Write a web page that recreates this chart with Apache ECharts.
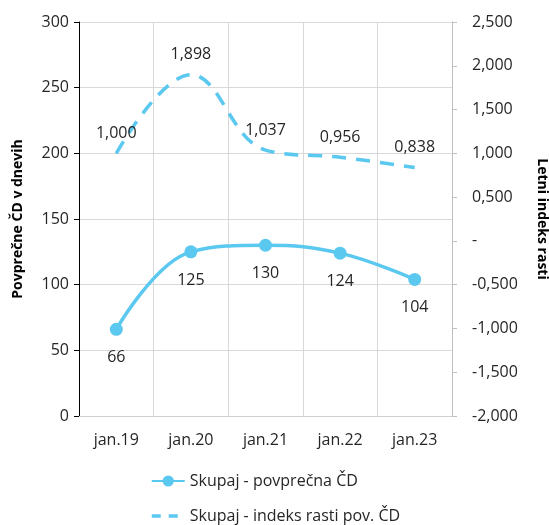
<html>
<head>
    <script src="https://cdn.jsdelivr.net/npm/echarts@6/dist/echarts.min.js"></script>
    <style>
        body { margin: 0 }
        #chart { width: 549px; height: 525px; }
    </style>
</head>
<body>
    <div id="chart"></div>
    <script>
        const categories = ['jan.19', 'jan.20', 'jan.21', 'jan.22', 'jan.23'];
        const avgDays = [66, 125, 130, 124, 104];
        const growthIndex = [1.000, 1.898, 1.037, 0.956, 0.838];

        const blue = '#5BC8F0';
        const font = '"Open Sans", sans-serif';
        const txt = '#262626';
        const fmt = (v) => v === 0 ? '-' : v.toFixed(3).replace('.', ',');

        const myChart = echarts.init(document.getElementById('chart'));

        const option = {
            textStyle: { fontFamily: font },
            grid: { left: 79, right: 97, top: 22, bottom: 109, outerBoundsMode: 'none', containLabel: false },
            legend: {
                orient: 'vertical',
                left: 150,
                bottom: 1,
                padding: 0,
                itemGap: 19,
                itemWidth: 33,
                itemHeight: 14,
                textStyle: { fontSize: 16, color: txt, fontFamily: font },
                data: [
                    { name: 'Skupaj - povprečna ČD' },
                    {
                        name: 'Skupaj - indeks rasti pov. ČD',
                        itemStyle: { opacity: 0 },
                        lineStyle: { type: [9, 8], width: 3.5, color: blue }
                    }
                ]
            },
            xAxis: {
                type: 'category',
                data: categories,
                axisLine: { lineStyle: { color: '#d0d0d0' } },
                axisTick: { show: false },
                axisLabel: { fontSize: 16, color: txt, margin: 16 },
                splitLine: { show: true, lineStyle: { color: '#d9d9d9' } }
            },
            yAxis: [
                {
                    type: 'value',
                    min: 0,
                    max: 300,
                    interval: 50,
                    name: 'Povprečne ČD v dnevih',
                    nameLocation: 'middle',
                    nameGap: 54,
                    nameTextStyle: { fontSize: 14, fontWeight: 'bold', color: '#000' },
                    axisLine: { show: true, lineStyle: { color: '#000' } },
                    axisTick: { show: true, length: 5, lineStyle: { color: '#000' } },
                    axisLabel: { fontSize: 16, color: txt, margin: 10 },
                    splitLine: { lineStyle: { color: '#d9d9d9' } }
                },
                {
                    type: 'value',
                    min: -2,
                    max: 2.5,
                    interval: 0.5,
                    name: 'Letni indeks rasti',
                    nameLocation: 'middle',
                    nameGap: 83,
                    nameRotate: -90,
                    nameTextStyle: { fontSize: 14, fontWeight: 'bold', color: '#000' },
                    axisLine: { show: true, lineStyle: { color: '#bfbfbf' } },
                    axisTick: { show: true, length: 5, lineStyle: { color: '#bfbfbf' } },
                    axisLabel: { fontSize: 16, color: txt, margin: 20, formatter: fmt },
                    splitLine: { show: false }
                }
            ],
            series: [
                {
                    name: 'Skupaj - povprečna ČD',
                    type: 'line',
                    yAxisIndex: 0,
                    data: avgDays,
                    smooth: 0.4,
                    symbol: 'circle',
                    symbolSize: 13,
                    itemStyle: { color: blue },
                    lineStyle: { color: blue, width: 3.5 },
                    label: {
                        show: true,
                        position: 'bottom',
                        distance: 14,
                        fontSize: 16,
                        color: txt
                    }
                },
                {
                    name: 'Skupaj - indeks rasti pov. ČD',
                    type: 'line',
                    yAxisIndex: 1,
                    data: growthIndex,
                    smooth: 0.4,
                    symbol: 'circle',
                    symbolSize: 0,
                    showSymbol: true,
                    itemStyle: { color: blue },
                    lineStyle: { color: blue, width: 3.5, type: [14, 10] },
                    label: {
                        show: true,
                        position: 'top',
                        distance: 12,
                        fontSize: 16,
                        color: txt,
                        formatter: (p) => fmt(p.value)
                    }
                }
            ]
        };

        myChart.setOption(option);
    </script>
</body>
</html>
